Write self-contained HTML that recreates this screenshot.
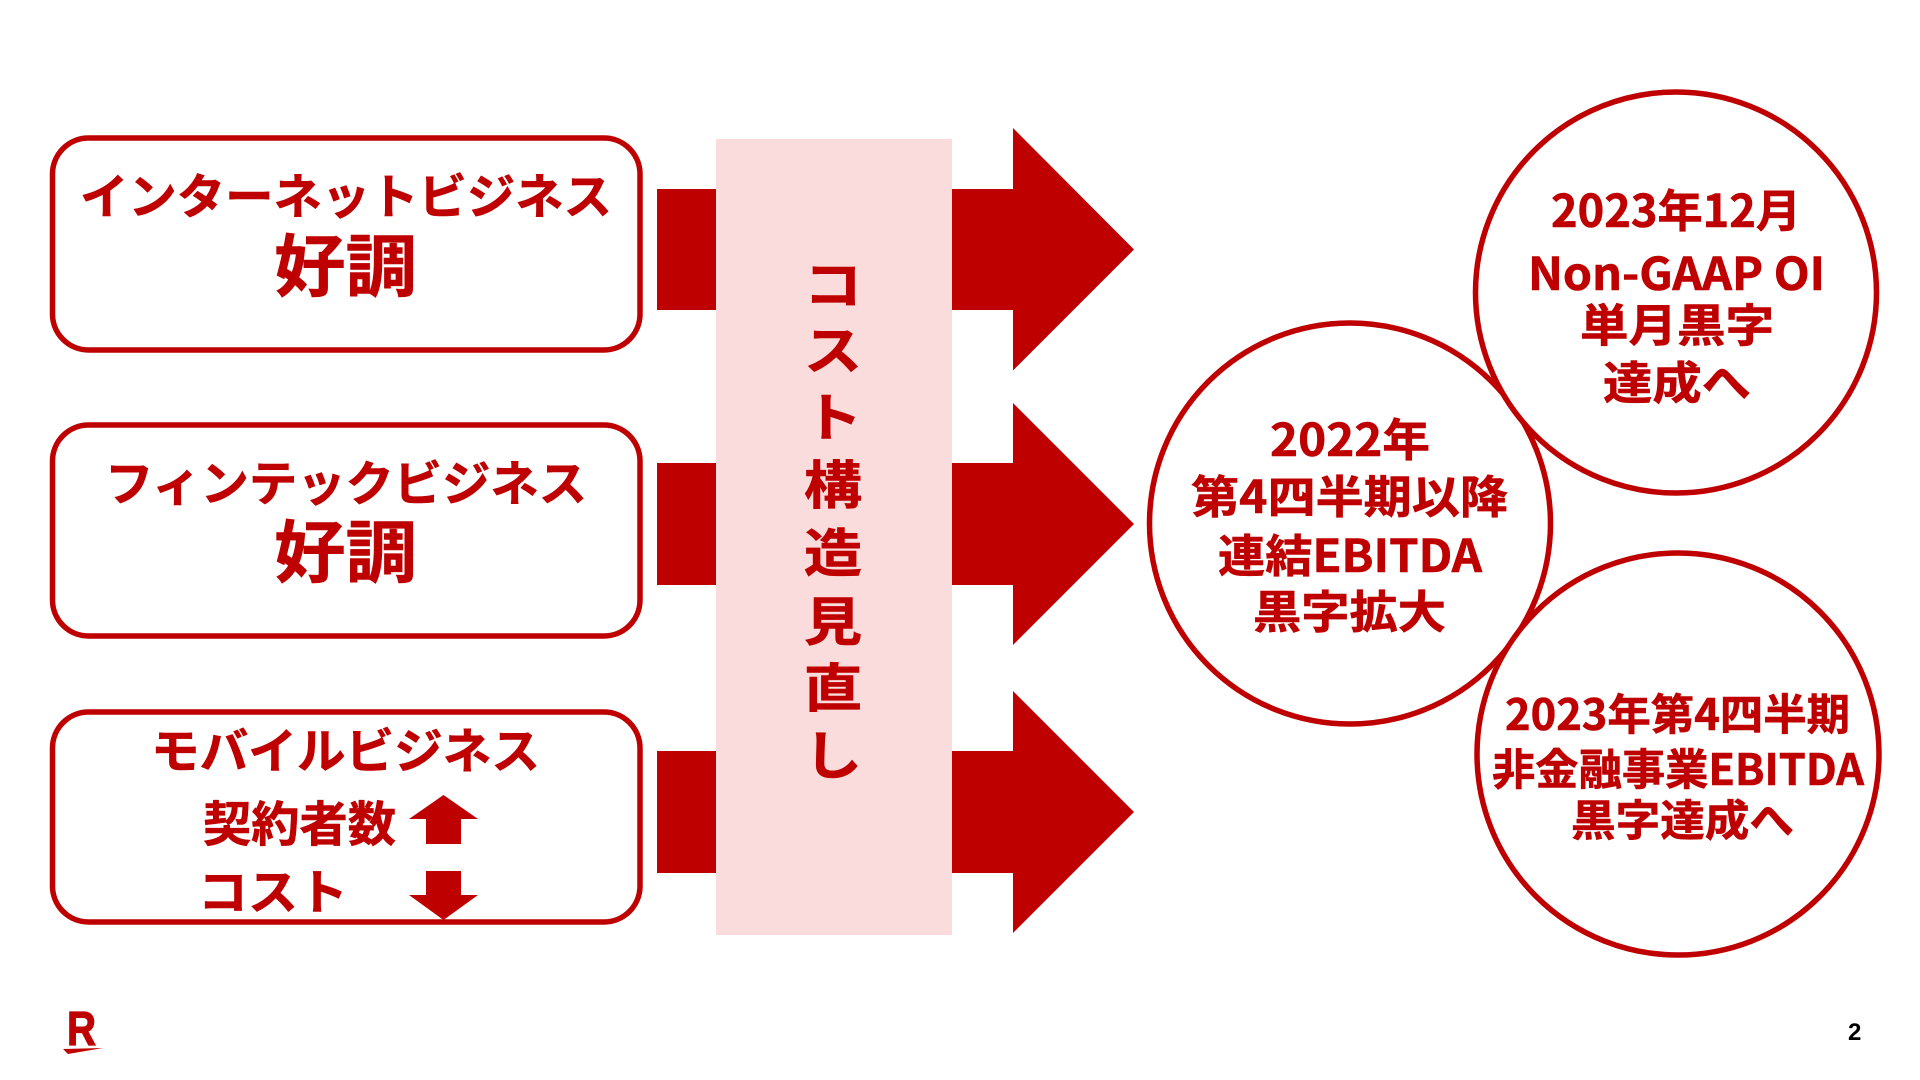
<!DOCTYPE html>
<html lang="ja"><head><meta charset="utf-8"><title>Slide 2</title>
<style>
html,body{margin:0;padding:0;background:#fff;width:1920px;height:1080px;overflow:hidden}
svg{display:block}
text{font-family:"Liberation Sans","Noto Sans CJK JP",sans-serif;font-weight:700;fill:#bf0000}
.j{font-family:"Noto Sans CJK JP","Liberation Sans",sans-serif;stroke:#bf0000;stroke-width:.6}
</style></head><body>
<svg width="1920" height="1080" viewBox="0 0 1920 1080" xmlns="http://www.w3.org/2000/svg">
<rect width="1920" height="1080" fill="#fff"/>
<!-- left boxes -->
<g fill="#fff" stroke="#bf0000" stroke-width="5.5">
<rect x="52.5" y="138" width="587.5" height="212" rx="36"/>
<rect x="52.5" y="425" width="587.5" height="211" rx="36"/>
<rect x="52.5" y="712" width="587.5" height="210" rx="36"/>
</g>
<!-- arrows -->
<g fill="#bf0000">
<polygon points="657,189 1013,189 1013,128 1134,249.5 1013,370.5 1013,310 657,310"/>
<polygon points="657,463 1013,463 1013,403 1134,524 1013,645 1013,585 657,585"/>
<polygon points="657,751 1013,751 1013,691 1134,812 1013,933 1013,873 657,873"/>
<polygon points="409,819 443.5,795 478,819 461,819 461,844 426,844 426,819"/>
<polygon points="426,871 461,871 461,895 478,895 443.5,920 409,895 426,895"/>
</g>
<rect x="716" y="139" width="236" height="796" fill="#fadcdc"/>
<!-- circles -->
<g fill="#fff" stroke="#bf0000" stroke-width="5.5">
<circle cx="1350" cy="523.5" r="200.5"/>
<circle cx="1676" cy="292.5" r="200.5"/>
<circle cx="1678" cy="754" r="201"/>
</g>
<!-- left text -->
<g>
<text class="j" x="80" y="213.5" font-size="48" textLength="532" lengthAdjust="spacingAndGlyphs">インターネットビジネス</text>
<text class="j" x="274" y="291" font-size="68" textLength="143" lengthAdjust="spacingAndGlyphs">好調</text>
<text class="j" x="105" y="500.5" font-size="48" textLength="482" lengthAdjust="spacingAndGlyphs">フィンテックビジネス</text>
<text class="j" x="274" y="577" font-size="68" textLength="143" lengthAdjust="spacingAndGlyphs">好調</text>
<text class="j" x="151" y="768" font-size="48" textLength="389" lengthAdjust="spacingAndGlyphs">モバイルビジネス</text>
<text class="j" x="203" y="841" font-size="48" textLength="193" lengthAdjust="spacingAndGlyphs">契約者数</text>
<text class="j" x="198" y="909" font-size="48" textLength="150" lengthAdjust="spacingAndGlyphs">コスト</text>
</g>
<!-- middle vertical text -->
<g transform="translate(833,0) scale(1.12,1)" text-anchor="middle" font-size="52">
<text class="j" x="0" y="304">コ</text>
<text class="j" x="0" y="369.5">ス</text>
<text class="j" x="0" y="436.5">ト</text>
<text class="j" x="0" y="504">構</text>
<text class="j" x="0" y="572">造</text>
<text class="j" x="0" y="640.5">見</text>
<text class="j" x="0" y="707">直</text>
<text class="j" x="0" y="774.5">し</text>
</g>
<!-- circle text -->
<g font-size="45">
<text class="j" x="1551" y="227" textLength="250" lengthAdjust="spacingAndGlyphs">2023年12月</text>
<text class="j" x="1528" y="290" textLength="297" lengthAdjust="spacingAndGlyphs">Non-GAAP OI</text>
<text class="j" x="1580" y="341.5" textLength="194" lengthAdjust="spacingAndGlyphs">単月黒字</text>
<text class="j" x="1603" y="399" textLength="148" lengthAdjust="spacingAndGlyphs">達成へ</text>
<text class="j" x="1270" y="456" textLength="160" lengthAdjust="spacingAndGlyphs">2022年</text>
<text class="j" x="1191" y="513" textLength="317" lengthAdjust="spacingAndGlyphs">第4四半期以降</text>
<text class="j" x="1218" y="572" textLength="264" lengthAdjust="spacingAndGlyphs">連結EBITDA</text>
<text class="j" x="1253" y="628" textLength="193" lengthAdjust="spacingAndGlyphs">黒字拡大</text>
<text class="j" x="1505" y="730" textLength="345" lengthAdjust="spacingAndGlyphs" font-size="43">2023年第4四半期</text>
<text class="j" x="1492" y="785" textLength="372" lengthAdjust="spacingAndGlyphs" font-size="43">非金融事業EBITDA</text>
<text class="j" x="1571" y="836" textLength="223" lengthAdjust="spacingAndGlyphs" font-size="43">黒字達成へ</text>
</g>
<!-- logo -->
<text x="67" y="1045" font-size="48" textLength="29" lengthAdjust="spacingAndGlyphs" style="font-family:'Liberation Sans',sans-serif;stroke:#bf0000;stroke-width:1.2">R</text>
<polygon points="63,1049 103,1048 68,1054" fill="#bf0000"/>
<!-- page number -->
<text x="1848" y="1040" font-size="24" style="fill:#000;font-family:'Liberation Sans',sans-serif">2</text>
</svg>
</body></html>
